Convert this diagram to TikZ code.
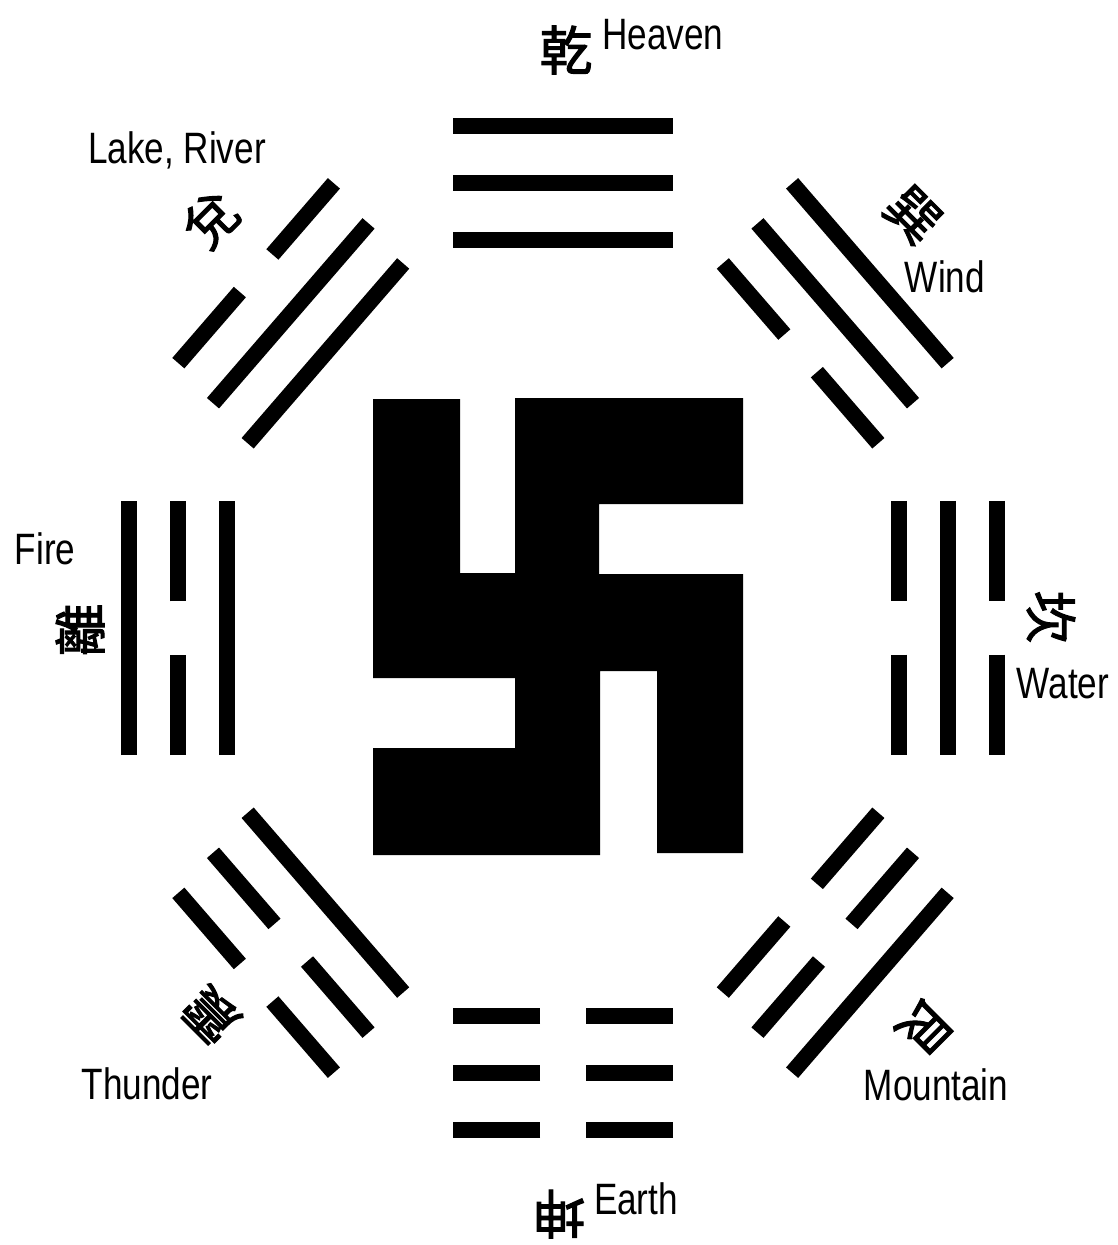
\documentclass[tikz,border=0pt]{standalone}
\usepackage{fontspec}
\setmainfont{Liberation Sans}
\newfontfamily\hanfont[AutoFakeBold=2]{Noto Sans CJK TC}

% one line of a trigram: radius, 1 = solid, 0 = broken
\newcommand{\yao}[2]{%
  \ifnum#2=1
    \draw[yao] (#1,-110) -- (#1,110);
  \else
    \draw[yao] (#1,-110) -- (#1,-23) (#1,23) -- (#1,110);
  \fi}
% trigram: angle, bottom (inner), middle, top (outer)
\newcommand{\trigram}[4]{%
  \begin{scope}[shift={(563,628)}, yscale=1.156, rotate=#1]
    \yao{336}{#2}\yao{385}{#3}\yao{434}{#4}
  \end{scope}}

\begin{document}
\begin{tikzpicture}[x=0.02cm, y=-0.02cm,
    yao/.style={line width=0.32cm, black},
    lbl/.style={font=\fontsize{20}{24}\selectfont, yscale=1.25, inner sep=0pt},
    han/.style={font=\hanfont\bfseries\fontsize{30}{34}\selectfont, inner sep=0pt}]
  \useasboundingbox (0,0) rectangle (1118,1245);

  % centre sign
  \fill[black] (373,399) -- (460,399) -- (460,573) -- (515,573) -- (515,398)
    -- (743,398) -- (743,504) -- (599,504) -- (599,574) -- (743,574)
    -- (743,853) -- (657,853) -- (657,671) -- (600,671) -- (600,855)
    -- (373,855) -- (373,748) -- (515,748) -- (515,678) -- (373,678) -- cycle;

  % the eight trigrams
  \trigram{90}{1}{1}{1}   % Heaven
  \trigram{135}{1}{1}{0}  % Lake
  \trigram{180}{1}{0}{1}  % Fire
  \trigram{-135}{1}{0}{0} % Thunder
  \trigram{-90}{0}{0}{0}  % Earth
  \trigram{-45}{0}{0}{1}  % Mountain
  \trigram{0}{0}{1}{0}    % Water
  \trigram{45}{0}{1}{1}   % Wind

  % names
  \node[han] (qian) at (566,50) {乾};
  \node[lbl] (heaven) at (663,35) {Heaven};
  \node[han, rotate=45] (dui) at (211,220) {兌};
  \node[lbl] (lake) at (177,150) {Lake, River};
  \node[han, rotate=-45] (xun) at (913,215) {巽};
  \node[lbl] (wind) at (945,277) {Wind};
  \node[han, rotate=-90] (kan) at (1051,617) {坎};
  \node[lbl] (water) at (1063,684) {Water};
  \node[han, rotate=90] (li) at (80,630) {離};
  \node[lbl] (fire) at (45,549) {Fire};
  \node[han, rotate=135] (zhen) at (211,1015) {震};
  \node[lbl] (thunder) at (147,1084) {Thunder};
  \node[han, rotate=-135] (gen) at (925,1027) {艮};
  \node[lbl] (mountain) at (936,1085) {Mountain};
  \node[han, rotate=180] (kun) at (559,1214) {坤};
  \node[lbl] (earth) at (636,1199) {Earth};
\end{tikzpicture}
\end{document}
